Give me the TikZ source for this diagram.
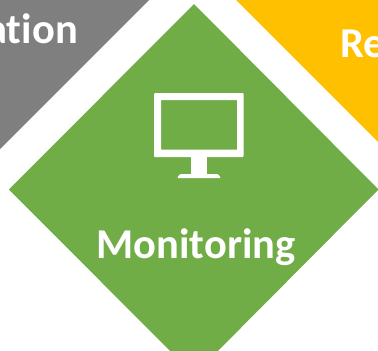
\documentclass[tikz,border=0pt]{standalone}
\usepackage{fontspec}
\setmainfont{Carlito}[BoldFont={Carlito Bold}]
\definecolor{mgreen}{HTML}{70AD47}
\definecolor{mgray}{HTML}{7F7F7F}
\definecolor{myellow}{HTML}{FFC000}
\tikzset{
  x=1pt,y=-1pt,
  lbl/.style={inner sep=0pt,text=white,font=\bfseries\fontsize{42.5}{42.5}\selectfont\addfontfeatures{Ligatures=NoCommon}},
  iconpart/.style={fill=white,rounded corners=1pt}
}
\begin{document}
\begin{tikzpicture}
\useasboundingbox (0,0) rectangle (378,351);
\clip (0,0) rectangle (378,351);
\fill[mgray] (-200,0) -- (149,0) -- (-200,349) -- cycle;
\fill[myellow] (236,0) -- (600,0) -- (600,364) -- cycle;
\fill[mgreen] (194,4) -- (378.5,189.5) -- (194,375) -- (9,189.5) -- cycle;
% monitor
\fill[white,rounded corners=1pt,even odd rule] (154,93) rectangle (243.5,157) (161,100) [sharp corners] rectangle (237,149.5);
\fill[white] (191,157) rectangle (207,175);
\fill[iconpart] (177,178) -- (180,174) -- (218,174) -- (221,178) -- cycle;
\node[lbl,anchor=base] (mon) at (196,258) {Monitoring};
\node[lbl,anchor=base east] (val) at (78,43) {ation};
\node[lbl,anchor=base west] (rep) at (340,57) {Re};
\end{tikzpicture}
\end{document}
